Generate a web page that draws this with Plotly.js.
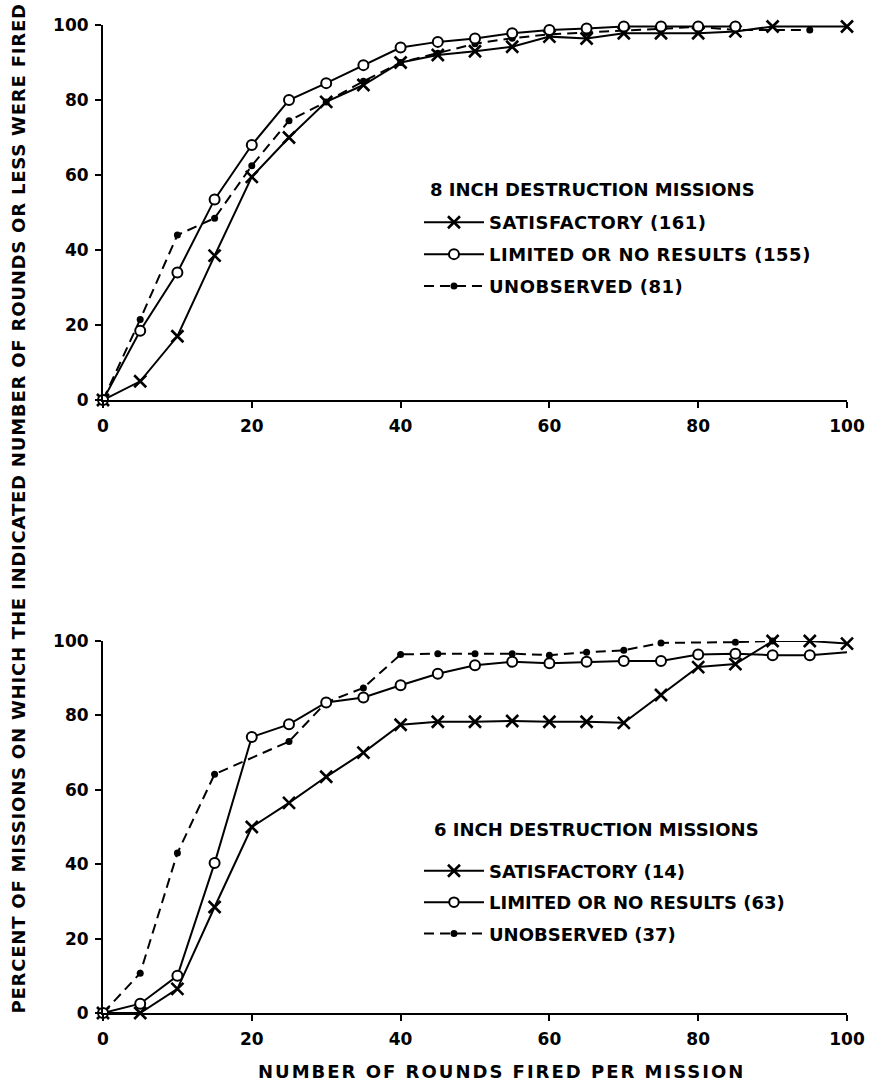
<!DOCTYPE html>
<html><head><meta charset="utf-8">
<script src="https://cdn.plot.ly/plotly-3.0.1.min.js"></script>
<style>
html,body{margin:0;padding:0;background:#fff;}
#chart{width:877px;height:1087px;}
.annotation[data-index="0"] text{letter-spacing:0.8px;}
.annotation[data-index="1"] text{letter-spacing:2px;}
.legendtext{letter-spacing:0.5px;}
</style></head><body><div id="chart"></div>
<script>
// Rounds fired per mission (x values)
const rounds = [0,5,10,15,20,25,30,35,40,45,50,55,60,65,70,75,80,85,90,95,100];
const tickVals = [0,20,40,60,80,100];

// 8 inch destruction missions
const title8 = '8 INCH DESTRUCTION MISSIONS';
const sat8Name = 'SATISFACTORY (161)';
const lim8Name = 'LIMITED OR NO RESULTS (155)';
const uno8Name = 'UNOBSERVED (81)';
const sat8 = [0,5,17,38.5,59.5,70,79.5,84,90,92,93,94.2,96.9,96.4,97.8,97.8,97.8,98.3,99.6,null,99.6];
const lim8 = [0,18.5,34,53.5,68,80,84.5,89.3,94,95.5,96.4,97.8,98.7,99.1,99.6,99.6,99.6,99.6,null,null,null];
const uno8 = [0,21.5,44,48.5,62.5,74.5,79.5,85,90,92.5,95,96.5,97.5,98,98.5,99,99.5,98.7,null,98.7,null];

// 6 inch destruction missions
const title6 = '6 INCH DESTRUCTION MISSIONS';
const sat6Name = 'SATISFACTORY (14)';
const lim6Name = 'LIMITED OR NO RESULTS (63)';
const uno6Name = 'UNOBSERVED (37)';
const sat6 = [0,0,6.5,28.5,50,56.5,63.5,70,77.5,78.3,78.3,78.5,78.3,78.3,78,85.5,93,93.8,100,100,99.3];
const lim6 = [0,2.5,10,40.3,74.2,77.6,83.5,84.8,88.1,91.2,93.5,94.4,94,94.4,94.6,94.6,96.4,96.6,96.2,96.2,97];
const uno6 = [0,10.7,43,64.2,null,73,83.5,87.4,96.4,96.6,96.6,96.6,96.2,97,97.5,99.5,null,99.7,100,null,null];

const yTitle = 'PERCENT OF MISSIONS ON WHICH THE INDICATED NUMBER OF ROUNDS OR LESS WERE FIRED';
const xTitle = 'NUMBER OF ROUNDS FIRED PER MISSION';

const FONT = {family:'DejaVu Sans, sans-serif', size:18, weight:700, color:'#000'};
const INK = '#000';

function satTrace(y, name, xa, ya, leg){
  return {x:rounds, y:y, name:name, xaxis:xa, yaxis:ya, legend:leg, legendgroup:name, legendrank:1,
    mode:'lines+markers', connectgaps:true, cliponaxis:false,
    line:{color:INK, width:2},
    marker:{symbol:'x-thin-open', size:12, color:INK, opacity:1, line:{color:INK, width:2.6}}};
}
function limTrace(y, name, xa, ya, leg, sizes){
  return {x:rounds, y:y, name:name, xaxis:xa, yaxis:ya, legend:leg, legendgroup:name, legendrank:2,
    mode:'lines+markers', connectgaps:true, cliponaxis:false,
    line:{color:INK, width:2},
    marker:{symbol:'circle', size:sizes || 10, color:'#fff', opacity:1, line:{color:INK, width:2}}};
}
function unoTrace(y, name, xa, ya, leg){
  return {x:rounds, y:y, name:name, xaxis:xa, yaxis:ya, legend:leg, legendgroup:name, legendrank:3,
    mode:'lines+markers', connectgaps:true, cliponaxis:false,
    line:{color:INK, width:2, dash:'10px,6px'},
    marker:{symbol:'circle', size:7, color:INK, opacity:1}};
}
const lim6Sizes = lim6.map((v,i)=> i === lim6.length-1 ? 0 : 10);

const data = [
  unoTrace(uno8, uno8Name, 'x', 'y', 'legend'),
  satTrace(sat8, sat8Name, 'x', 'y', 'legend'),
  limTrace(lim8, lim8Name, 'x', 'y', 'legend'),
  unoTrace(uno6, uno6Name, 'x2', 'y2', 'legend2'),
  satTrace(sat6, sat6Name, 'x2', 'y2', 'legend2'),
  limTrace(lim6, lim6Name, 'x2', 'y2', 'legend2', lim6Sizes)
];

function xAxis(anchor){
  return {anchor:anchor, domain:[0,1], range:[0,100], tickvals:tickVals, ticks:'outside', ticklen:6, tickwidth:2,
    tickcolor:INK, showline:true, linewidth:2, linecolor:INK, showgrid:false, zeroline:false,
    tickfont:{family:FONT.family, size:17, weight:700, color:INK}, ticklabelstandoff:4};
}
function yAxis(anchor, domain){
  return {anchor:anchor, domain:domain, range:[0,100], tickvals:tickVals, ticks:'outside', ticklen:6, tickwidth:2,
    tickcolor:INK, showline:true, linewidth:2, linecolor:INK, showgrid:false, zeroline:false,
    tickfont:{family:FONT.family, size:17, weight:700, color:INK}, ticklabelstandoff:3};
}
function legendCfg(x, y, gap){
  return {x:x, y:y, xanchor:'left', yanchor:'top', xref:'paper', yref:'paper', bgcolor:'rgba(0,0,0,0)',
    font:FONT, traceorder:'grouped', tracegroupgap:gap, itemwidth:60, itemclick:false, itemdoubleclick:false};
}

const layout = {
  width:877, height:1087,
  margin:{l:103, r:30, t:25, b:74},
  paper_bgcolor:'#fff', plot_bgcolor:'#fff',
  font:FONT,
  showlegend:true,
  xaxis:xAxis('y'),
  yaxis:yAxis('x', [0.6204,1]),
  xaxis2:xAxis('y2'),
  yaxis2:yAxis('x2', [0,0.3765]),
  legend:legendCfg(0.4247, 0.8188, 5.5),
  legend2:legendCfg(0.4247, 0.1624, 5),
  annotations:[
    {text:yTitle, xref:'paper', yref:'paper', x:-0.114, y:0.511, xanchor:'center', yanchor:'middle',
     textangle:-90, showarrow:false, font:FONT},
    {text:xTitle, xref:'paper', yref:'paper', x:0.536, y:-0.0597, xanchor:'center', yanchor:'middle',
     showarrow:false, font:FONT},
    {text:title8, xref:'paper', yref:'paper', x:0.4368, y:0.834, xanchor:'left', yanchor:'middle',
     showarrow:false, font:FONT},
    {text:title6, xref:'paper', yref:'paper', x:0.4422, y:0.1862, xanchor:'left', yanchor:'middle',
     showarrow:false, font:FONT}
  ]
};

Plotly.newPlot('chart', data, layout, {staticPlot:true, displayModeBar:false});
</script></body></html>
